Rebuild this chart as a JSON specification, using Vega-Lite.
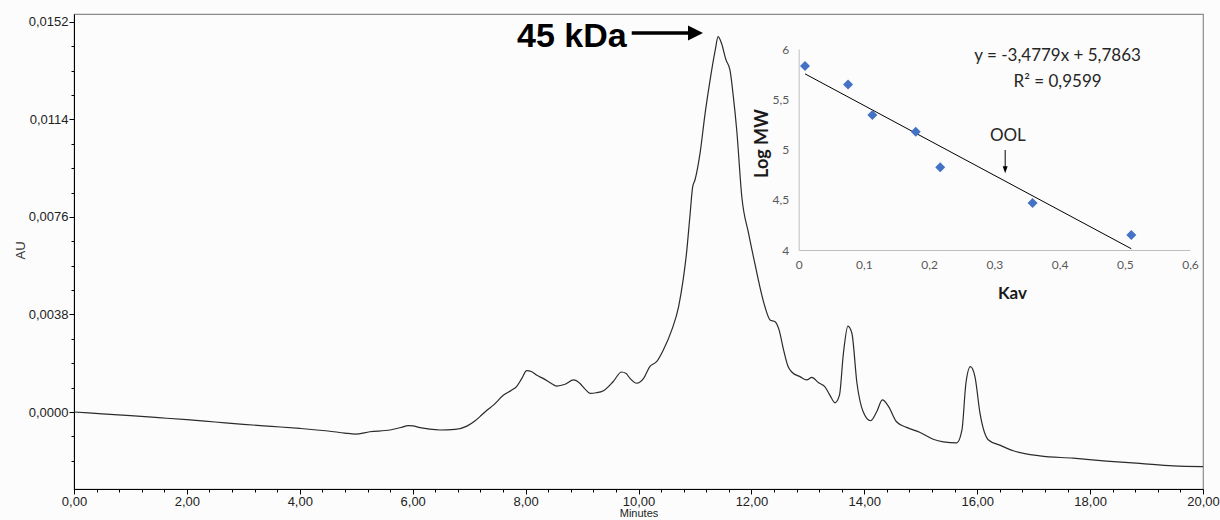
{
  "$schema": "https://vega.github.io/schema/vega-lite/v6.json",
  "width": 1129,
  "height": 475,
  "autosize": {"type": "none"},
  "padding": {"left": 74, "top": 14, "right": 17, "bottom": 31},
  "background": "#fcfcfc",
  "config": {
    "view": {"stroke": "#8c8c8c", "strokeWidth": 1.2},
    "font": "Liberation Sans"
  },
  "datasets": {
    "trace": [
      {"t": 0, "au": 0}, {"t": 0.5, "au": -0.00007}, {"t": 1, "au": -0.00014}, {"t": 1.5, "au": -0.00022},
      {"t": 2, "au": -0.0003}, {"t": 2.5, "au": -0.00039}, {"t": 3, "au": -0.00048}, {"t": 3.5, "au": -0.00056},
      {"t": 4, "au": -0.00064}, {"t": 4.5, "au": -0.00074}, {"t": 4.8, "au": -0.00082}, {"t": 4.98, "au": -0.00086},
      {"t": 5.24, "au": -0.00077}, {"t": 5.6, "au": -0.0007}, {"t": 5.8, "au": -0.0006}, {"t": 5.92, "au": -0.00053},
      {"t": 6.0, "au": -0.00054}, {"t": 6.13, "au": -0.00061}, {"t": 6.3, "au": -0.00067}, {"t": 6.48, "au": -0.0007},
      {"t": 6.75, "au": -0.00068}, {"t": 6.96, "au": -0.00055}, {"t": 7.1, "au": -0.00035}, {"t": 7.19, "au": -0.00018},
      {"t": 7.3, "au": 0.00004}, {"t": 7.43, "au": 0.00027}, {"t": 7.61, "au": 0.00066}, {"t": 7.75, "au": 0.00085},
      {"t": 7.84, "au": 0.00099}, {"t": 7.93, "au": 0.0013}, {"t": 8.02, "au": 0.00161}, {"t": 8.11, "au": 0.00157},
      {"t": 8.2, "au": 0.00143}, {"t": 8.31, "au": 0.00131}, {"t": 8.45, "au": 0.00112}, {"t": 8.55, "au": 0.00101},
      {"t": 8.7, "au": 0.00108}, {"t": 8.85, "au": 0.00125}, {"t": 8.96, "au": 0.00112}, {"t": 9.05, "au": 0.0009},
      {"t": 9.14, "au": 0.00073}, {"t": 9.25, "au": 0.00075}, {"t": 9.38, "au": 0.00083}, {"t": 9.55, "au": 0.00118},
      {"t": 9.7, "au": 0.00156}, {"t": 9.78, "au": 0.0015}, {"t": 9.85, "au": 0.00131}, {"t": 9.97, "au": 0.00112},
      {"t": 10.09, "au": 0.00131}, {"t": 10.2, "au": 0.00177}, {"t": 10.32, "au": 0.00196}, {"t": 10.44, "au": 0.00242},
      {"t": 10.59, "au": 0.0032}, {"t": 10.71, "au": 0.0041}, {"t": 10.79, "au": 0.00514}, {"t": 10.85, "au": 0.00618},
      {"t": 10.91, "au": 0.00761}, {"t": 10.96, "au": 0.00878}, {"t": 11.0, "au": 0.00904}, {"t": 11.09, "au": 0.01008},
      {"t": 11.18, "au": 0.01164}, {"t": 11.25, "au": 0.01268}, {"t": 11.36, "au": 0.01411}, {"t": 11.41, "au": 0.01463},
      {"t": 11.47, "au": 0.01437}, {"t": 11.55, "au": 0.01372}, {"t": 11.62, "au": 0.01333}, {"t": 11.68, "au": 0.01229},
      {"t": 11.74, "au": 0.01099}, {"t": 11.83, "au": 0.00839}, {"t": 11.95, "au": 0.00696}, {"t": 12.06, "au": 0.0058},
      {"t": 12.15, "au": 0.00488}, {"t": 12.24, "au": 0.0041}, {"t": 12.33, "au": 0.00359}, {"t": 12.42, "au": 0.00352},
      {"t": 12.49, "au": 0.0032}, {"t": 12.57, "au": 0.00242}, {"t": 12.65, "au": 0.00177}, {"t": 12.72, "au": 0.00155},
      {"t": 12.86, "au": 0.00138}, {"t": 12.98, "au": 0.00125}, {"t": 13.07, "au": 0.00135}, {"t": 13.19, "au": 0.00114},
      {"t": 13.3, "au": 0.00099}, {"t": 13.39, "au": 0.00066}, {"t": 13.48, "au": 0.00036}, {"t": 13.56, "au": 0.00066},
      {"t": 13.63, "au": 0.00229}, {"t": 13.71, "au": 0.00335}, {"t": 13.78, "au": 0.00307}, {"t": 13.87, "au": 0.00112},
      {"t": 13.98, "au": 0.00001}, {"t": 14.11, "au": -0.00034}, {"t": 14.22, "au": 0.00001}, {"t": 14.32, "au": 0.00047},
      {"t": 14.43, "au": 0.00021}, {"t": 14.57, "au": -0.00038}, {"t": 14.75, "au": -0.0006}, {"t": 14.99, "au": -0.0008},
      {"t": 15.22, "au": -0.00106}, {"t": 15.4, "au": -0.00116}, {"t": 15.64, "au": -0.0012}, {"t": 15.73, "au": -0.0007},
      {"t": 15.8, "au": 0.00112}, {"t": 15.88, "au": 0.00177}, {"t": 15.96, "au": 0.00138}, {"t": 16.05, "au": -0.00005},
      {"t": 16.2, "au": -0.00109}, {"t": 16.4, "au": -0.00129}, {"t": 16.64, "au": -0.00151}, {"t": 17.11, "au": -0.00171},
      {"t": 17.7, "au": -0.0018}, {"t": 18.29, "au": -0.00191}, {"t": 18.88, "au": -0.002}, {"t": 19.47, "au": -0.0021},
      {"t": 20.0, "au": -0.00213}
    ],
    "kdaLabel": [{"t": 9.79, "au": 0.01424, "label": "45 kDa"}],
    "kdaArrow": [{"t": 9.88, "t2": 10.95, "au": 0.01477}],
    "kdaHead": [{"t": 11.01, "au": 0.01477}],
    "standards": [
      {"kav": 0.0097, "logmw": 5.83}, {"kav": 0.0757, "logmw": 5.648}, {"kav": 0.113, "logmw": 5.343},
      {"kav": 0.1795, "logmw": 5.177}, {"kav": 0.217, "logmw": 4.823}, {"kav": 0.3586, "logmw": 4.468},
      {"kav": 0.51, "logmw": 4.149}
    ],
    "fit": [{"kav": 0.0097, "logmw": 5.7526}, {"kav": 0.51, "logmw": 4.0126}],
    "equation": [
      {"kav": 0.397, "logmw": 5.93, "label": "y = -3,4779x + 5,7863"},
      {"kav": 0.397, "logmw": 5.675, "label": "R² = 0,9599"}
    ],
    "oolLabel": [{"kav": 0.3207, "logmw": 5.134, "label": "OOL"}],
    "oolArrow": [{"kav": 0.3166, "logmw": 4.995, "logmw2": 4.8}],
    "oolHead": [{"kav": 0.3166, "logmw": 4.798}]
  },
  "layer": [
    {
      "layer": [
        {
          "data": {"name": "trace"},
          "mark": {"type": "line", "color": "#2b2b2b", "strokeWidth": 1.2, "interpolate": "monotone"},
          "encoding": {
            "x": {
              "field": "t", "type": "quantitative",
              "scale": {"domain": [0, 20], "nice": false, "zero": false},
              "axis": {
                "orient": "bottom",
                "title": "Minutes",
                "values": [0, 2, 4, 6, 8, 10, 12, 14, 16, 18, 20],
                "labelExpr": "replace(format(datum.value, '.2f'), '.', ',')",
                "labelFlush": false,
                "labelOverlap": false,
                "labelFont": "Liberation Sans",
                "labelFontSize": 13,
                "labelColor": "#222222",
                "labelPadding": 1,
                "tickSize": 5,
                "tickColor": "#000000",
                "domainColor": "#000000",
                "grid": false,
                "titleFont": "Liberation Sans",
                "titleFontSize": 11,
                "titleFontWeight": "normal",
                "titleColor": "#222222",
                "titleY": 24,
                "titleBaseline": "middle"
              }
            },
            "y": {
              "field": "au", "type": "quantitative",
              "scale": {"domain": [-0.003, 0.01551], "nice": false, "zero": false},
              "axis": {
                "orient": "left",
                "title": "AU",
                "values": [0, 0.0038, 0.0076, 0.0114, 0.0152],
                "labelExpr": "replace(format(datum.value, '.4f'), '.', ',')",
                "labelOverlap": false,
                "labelFont": "Liberation Sans",
                "labelFontSize": 13,
                "labelColor": "#222222",
                "labelPadding": 1,
                "tickSize": 5,
                "tickColor": "#000000",
                "domainColor": "#000000",
                "grid": false,
                "titleFont": "Liberation Sans",
                "titleFontSize": 13,
                "titleFontWeight": "normal",
                "titleColor": "#333333",
                "titleX": -54,
                "titleY": 236,
                "titleAlign": "center",
                "titleBaseline": "middle"
              }
            }
          }
        },
        {
          "data": {"name": "kdaLabel"},
          "mark": {"type": "text", "align": "right", "baseline": "alphabetic", "font": "Liberation Sans", "fontWeight": "bold", "fontSize": 34, "color": "#000000"},
          "encoding": {
            "x": {"field": "t", "type": "quantitative"},
            "y": {"field": "au", "type": "quantitative"},
            "text": {"field": "label"}
          }
        },
        {
          "data": {"name": "kdaArrow"},
          "mark": {"type": "rule", "color": "#000000", "strokeWidth": 3.5},
          "encoding": {
            "x": {"field": "t", "type": "quantitative"},
            "x2": {"field": "t2"},
            "y": {"field": "au", "type": "quantitative"}
          }
        },
        {
          "data": {"name": "kdaHead"},
          "mark": {"type": "point", "shape": "M -1 -1 L 1 0 L -1 1 Z", "filled": true, "size": 225, "color": "#000000", "opacity": 1},
          "encoding": {
            "x": {"field": "t", "type": "quantitative"},
            "y": {"field": "au", "type": "quantitative"}
          }
        }
      ]
    },
    {
      "data": {"name": "trace"},
      "mark": {"type": "line", "strokeOpacity": 0, "color": "#ffffff"},
      "encoding": {
        "x": {
          "field": "t", "type": "quantitative",
          "scale": {"domain": [0, 20], "nice": false, "zero": false},
          "axis": {
            "orient": "bottom",
            "title": null,
            "labels": false,
            "domain": false,
            "grid": false,
            "tickSize": 3,
            "tickColor": "#000000",
            "values": [0.4,0.8,1.2,1.6,2.4,2.8,3.2,3.6,4.4,4.8,5.2,5.6,6.4,6.8,7.2,7.6,8.4,8.8,9.2,9.6,10.4,10.8,11.2,11.6,12.4,12.8,13.2,13.6,14.4,14.8,15.2,15.6,16.4,16.8,17.2,17.6,18.4,18.8,19.2,19.6]
          }
        },
        "y": {
          "field": "au", "type": "quantitative",
          "scale": {"domain": [-0.003, 0.01551], "nice": false, "zero": false},
          "axis": {
            "orient": "left",
            "title": null,
            "labels": false,
            "domain": false,
            "grid": false,
            "tickSize": 3,
            "tickColor": "#000000",
            "values": [-0.0019,-0.00095,0.00095,0.0019,0.00285,0.00475,0.0057,0.00665,0.00855,0.0095,0.01045,0.01235,0.0133,0.01425]
          }
        }
      }
    },
    {
      "layer": [
        {
          "data": {"name": "fit"},
          "mark": {"type": "line", "color": "#000000", "strokeWidth": 1},
          "encoding": {
            "x": {
              "field": "kav", "type": "quantitative",
              "scale": {"domain": [0, 0.6], "range": [724.7, 1116], "nice": false, "zero": false},
              "axis": {
                "orient": "bottom",
                "offset": -239,
                "title": "Kav",
                "values": [0, 0.1, 0.2, 0.3, 0.4, 0.5, 0.6],
                "labelExpr": "datum.value === 0 ? '0' : replace(format(datum.value, '.1f'), '.', ',')",
                "labelFlush": false,
                "labelOverlap": false,
                "labelFont": "Lato",
                "labelFontSize": 12,
                "labelColor": "#595959",
                "labelPadding": 9,
                "ticks": false,
                "domainColor": "#bfbfbf",
                "grid": false,
                "titleFont": "Lato",
                "titleFontSize": 17,
                "titleFontWeight": "bold",
                "titleColor": "#1a1a1a",
                "titleX": 938,
                "titleY": 43,
                "titleAlign": "center",
                "titleBaseline": "middle"
              }
            },
            "y": {
              "field": "logmw", "type": "quantitative",
              "scale": {"domain": [4, 6], "range": [236, 35], "nice": false, "zero": false},
              "axis": {
                "orient": "left",
                "offset": -724.7,
                "title": "Log MW",
                "values": [4, 4.5, 5, 5.5, 6],
                "labelExpr": "replace(toString(datum.value), '.', ',')",
                "labelOverlap": false,
                "labelFont": "Lato",
                "labelFontSize": 12,
                "labelColor": "#595959",
                "labelPadding": 10,
                "ticks": false,
                "domainColor": "#bfbfbf",
                "grid": false,
                "titleFont": "Lato",
                "titleFontSize": 18,
                "titleFontWeight": "bold",
                "titleColor": "#1a1a1a",
                "titleX": -36,
                "titleY": 129,
                "titleAngle": -90,
                "titleAlign": "center",
                "titleBaseline": "middle"
              }
            }
          }
        },
        {
          "data": {"name": "standards"},
          "mark": {"type": "point", "shape": "diamond", "filled": true, "size": 100, "color": "#4472c4", "opacity": 1},
          "encoding": {
            "x": {"field": "kav", "type": "quantitative"},
            "y": {"field": "logmw", "type": "quantitative"}
          }
        },
        {
          "data": {"name": "equation"},
          "mark": {"type": "text", "align": "center", "baseline": "middle", "font": "Lato", "fontSize": 17, "color": "#262626"},
          "encoding": {
            "x": {"field": "kav", "type": "quantitative"},
            "y": {"field": "logmw", "type": "quantitative"},
            "text": {"field": "label"}
          }
        },
        {
          "data": {"name": "oolLabel"},
          "mark": {"type": "text", "align": "center", "baseline": "middle", "font": "Lato", "fontSize": 17, "color": "#262626"},
          "encoding": {
            "x": {"field": "kav", "type": "quantitative"},
            "y": {"field": "logmw", "type": "quantitative"},
            "text": {"field": "label"}
          }
        },
        {
          "data": {"name": "oolArrow"},
          "mark": {"type": "rule", "color": "#000000", "strokeWidth": 1},
          "encoding": {
            "x": {"field": "kav", "type": "quantitative"},
            "y": {"field": "logmw", "type": "quantitative"},
            "y2": {"field": "logmw2"}
          }
        },
        {
          "data": {"name": "oolHead"},
          "mark": {"type": "point", "shape": "M -0.7 -1 L 0 1 L 0.7 -1 Z", "filled": true, "size": 49, "color": "#000000", "opacity": 1},
          "encoding": {
            "x": {"field": "kav", "type": "quantitative"},
            "y": {"field": "logmw", "type": "quantitative"}
          }
        }
      ]
    }
  ],
  "resolve": {"scale": {"x": "independent", "y": "independent"}}
}
